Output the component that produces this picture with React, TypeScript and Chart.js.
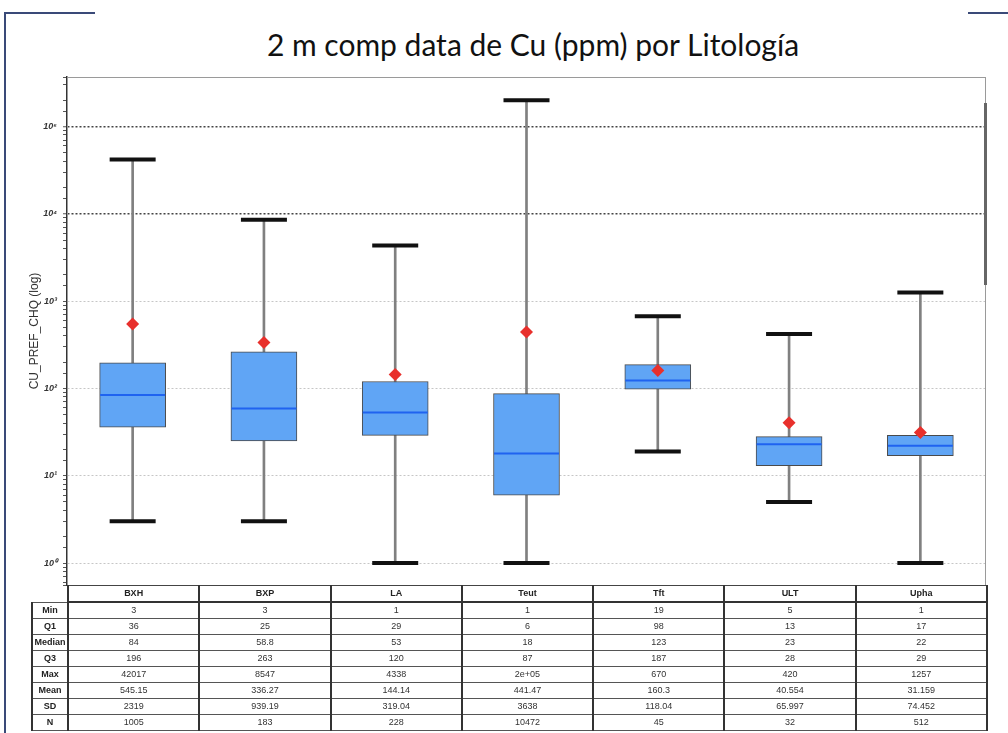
import React, { useEffect, useRef } from 'react';
import { Chart, registerables } from 'chart.js';

Chart.register(...registerables);

// ---- data ----
const categories = ['BXH', 'BXP', 'LA', 'Teut', 'Tft', 'ULT', 'Upha'];
const minVals = [3, 3, 1, 1, 19, 5, 1];
const q1Vals = [36, 25, 29, 6, 98, 13, 17];
const medianVals = [84, 58.8, 53, 18, 123, 23, 22];
const q3Vals = [196, 263, 120, 87, 187, 28, 29];
const maxVals = [42017, 8547, 4338, 200000, 670, 420, 1257];
const meanVals = [545.15, 336.27, 144.14, 441.47, 160.3, 40.554, 31.159];
const sdVals = [2319, 939.19, 319.04, 3638, 118.04, 65.997, 74.452];
const nVals = [1005, 183, 228, 10472, 45, 32, 512];
const rowLabels = ['Min', 'Q1', 'Median', 'Q3', 'Max', 'Mean', 'SD', 'N'];

const titleText = '2 m comp data de Cu (ppm) por Litología';
const yAxisTitle = 'CU_PREF_CHQ (log)';
const SUP = ['⁰', '¹', '²', '³', '⁴', '⁵', '⁶', '⁷'];

const fmt = (v: number) =>
  v >= 100000 ? v.toExponential(0).replace(/e\+(\d)$/, 'e+0$1') : String(v);

const tableRows = [minVals, q1Vals, medianVals, q3Vals, maxVals, meanVals, sdVals, nVals];

function isPow10(v: any) {
  if (typeof v !== 'number' || v <= 0) return false;
  const l = Math.log10(v);
  return Math.abs(l - Math.round(l)) < 1e-9;
}

const framePlugin = {
  id: 'frame',
  beforeDatasetsDraw(chart: any) {
    const { ctx, chartArea } = chart;
    const { left, top, right, bottom } = chartArea;
    ctx.save();
    ctx.strokeStyle = '#9a9a9a';
    ctx.lineWidth = 1;
    ctx.strokeRect(left + 0.5, top + 0.5, right - left - 1, bottom - top);
    ctx.restore();
  },
};

function BoxChart() {
  const ref = useRef<HTMLCanvasElement | null>(null);
  useEffect(() => {
    if (!ref.current) return;
    const chart = new Chart(ref.current, {
      type: 'bar',
      data: {
        labels: categories,
        datasets: [
          {
            type: 'line',
            label: 'Mean',
            data: meanVals,
            showLine: false,
            pointStyle: 'rectRot',
            pointRadius: 6.5,
            pointHoverRadius: 6.5,
            pointBackgroundColor: '#e8302c',
            pointBorderColor: '#e8302c',
            pointBorderWidth: 0,
            clip: false,
            order: 0,
          } as any,
          {
            type: 'line',
            label: 'Median',
            data: medianVals,
            showLine: false,
            pointStyle: 'line',
            pointRadius: 32.5,
            pointHoverRadius: 32.5,
            pointBorderColor: '#1f63f0',
            pointBorderWidth: 2,
            clip: false,
            order: 1,
          } as any,
          {
            type: 'line',
            label: 'Max',
            data: maxVals,
            showLine: false,
            pointStyle: 'line',
            pointRadius: 23,
            pointHoverRadius: 23,
            pointBorderColor: '#111111',
            pointBorderWidth: 4,
            clip: false,
            order: 1,
          } as any,
          {
            type: 'line',
            label: 'Min',
            data: minVals,
            showLine: false,
            pointStyle: 'line',
            pointRadius: 23,
            pointHoverRadius: 23,
            pointBorderColor: '#111111',
            pointBorderWidth: 4,
            clip: false,
            order: 1,
          } as any,
          {
            type: 'bar',
            label: 'IQR',
            data: categories.map((_, i) => [q1Vals[i], q3Vals[i]]),
            backgroundColor: '#60a5f5',
            borderColor: '#4a4a4a',
            borderWidth: 1,
            borderSkipped: false,
            barThickness: 66,
            grouped: false,
            order: 2,
          } as any,
          {
            type: 'bar',
            label: 'Range',
            data: categories.map((_, i) => [minVals[i], maxVals[i]]),
            backgroundColor: '#808080',
            borderWidth: 0,
            barThickness: 2,
            grouped: false,
            order: 3,
          } as any,
        ],
      },
      options: {
        responsive: false,
        animation: false,
        devicePixelRatio: 1,
        events: [],
        layout: { autoPadding: false, padding: { top: 77, bottom: 15, left: 22, right: 22 } },
        plugins: {
          legend: { display: false },
          tooltip: { enabled: false },
          title: { display: false },
        },
        scales: {
          x: { display: false, offset: true },
          y: {
            type: 'logarithmic',
            min: 0.56,
            max: 369000,
            afterFit: (s: any) => {
              s.width = 45;
            },
            border: { display: true, color: '#333', width: 1.5, dash: [2, 2] },
            grid: {
              color: (c: any) => {
                const v = c.tick && c.tick.value;
                if (!isPow10(v)) return 'rgba(0,0,0,0)';
                return v >= 1e4 ? '#444444' : '#c6c6c6';
              },
              lineWidth: (c: any) => {
                const v = c.tick && c.tick.value;
                return isPow10(v) && v >= 1e4 ? 1.5 : 1;
              },
              drawTicks: true,
              tickLength: 4,
              tickColor: '#555',
              tickWidth: 1,
              tickBorderDash: [],
            },
            ticks: {
              autoSkip: false,
              padding: 6,
              color: '#333',
              font: { family: 'Liberation Sans', size: 9, style: 'italic', weight: 'bold' },
              callback: (v: any) =>
                isPow10(Number(v)) ? '10' + SUP[Math.round(Math.log10(Number(v)))] : '',
            },
            title: {
              display: true,
              text: yAxisTitle,
              color: '#333',
              font: { family: 'Liberation Sans', size: 12 },
              padding: { top: 5, bottom: 0 },
            },
          } as any,
        },
      },
      plugins: [framePlugin],
    } as any);
    return () => chart.destroy();
  }, []);
  return (
    <canvas
      ref={ref}
      width={1008}
      height={600}
      style={{ position: 'absolute', left: 0, top: 0, width: 1008, height: 600 }}
    />
  );
}

export default function App() {
  const colW = (986 - 67) / categories.length;
  const cellBase: React.CSSProperties = {
    padding: 0,
    height: 15,
    lineHeight: '15px',
    textAlign: 'center',
    borderLeft: '2px solid #333',
    borderRight: '2px solid #333',
    borderTop: '1px solid #555',
    borderBottom: '1px solid #555',
    overflow: 'hidden',
    whiteSpace: 'nowrap',
  };
  return (
    <div
      style={{
        position: 'fixed',
        left: 0,
        top: 0,
        width: 1008,
        height: 733,
        background: '#fff',
        overflow: 'hidden',
        fontFamily: 'Liberation Sans, Arial, sans-serif',
      }}
    >
      {/* slide frame */}
      <div style={{ position: 'absolute', left: 4, top: 12, width: 2, height: 721, background: '#3a4a78' }} />
      <div style={{ position: 'absolute', left: 4, top: 12, width: 91, height: 2, background: '#3a4a78' }} />
      <div style={{ position: 'absolute', left: 968, top: 12, width: 40, height: 2, background: '#3a4a78' }} />

      <div
        style={{
          position: 'absolute',
          left: 0,
          top: 29,
          width: 1066,
          textAlign: 'center',
          fontFamily: 'Lato, sans-serif',
          fontSize: 30,
          lineHeight: '30px',
          color: '#111',
        }}
      >
        {titleText}
      </div>

      <BoxChart />

      {/* scrollbar-like bar on right edge */}
      <div style={{ position: 'absolute', left: 984, top: 103, width: 3, height: 182, background: '#666' }} />

      <table
        style={{
          position: 'absolute',
          left: 31,
          top: 585,
          width: 955,
          borderCollapse: 'collapse',
          tableLayout: 'fixed',
          fontSize: 9,
          color: '#333',
        }}
      >
        <colgroup>
          <col style={{ width: 36 }} />
          {categories.map((c) => (
            <col key={c} style={{ width: colW }} />
          ))}
        </colgroup>
        <tbody>
          <tr>
            <td style={{ ...cellBase, border: 'none' }} />
            {categories.map((c) => (
              <td key={c} style={{ ...cellBase, fontWeight: 'bold', color: '#222', borderTop: '1px solid #444', borderBottom: '2px solid #333' }}>
                {c}
              </td>
            ))}
          </tr>
          {rowLabels.map((r, ri) => (
            <tr key={r}>
              <td style={{ ...cellBase, fontWeight: 'bold', color: '#222' }}>{r}</td>
              {tableRows[ri].map((v, ci) => (
                <td key={ci} style={cellBase}>
                  {fmt(v)}
                </td>
              ))}
            </tr>
          ))}
        </tbody>
      </table>
    </div>
  );
}
